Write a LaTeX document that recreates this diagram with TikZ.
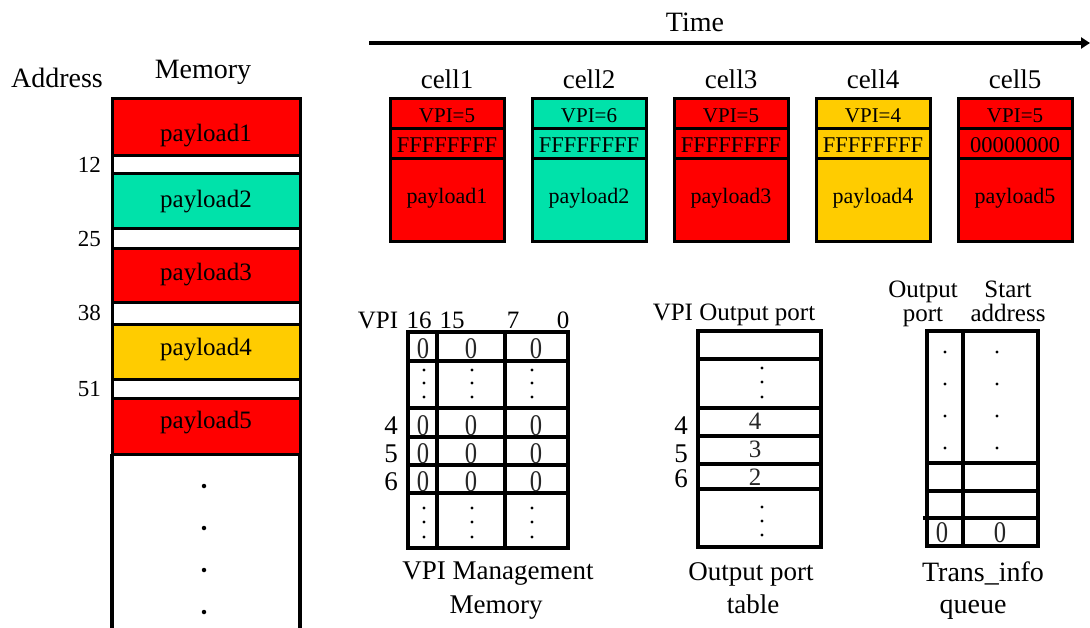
\documentclass[tikz,border=0pt]{standalone}
\usepackage{fontspec}
\setmainfont{Liberation Serif}
\usetikzlibrary{arrows.meta}
\definecolor{pred}{RGB}{255,0,0}
\definecolor{pteal}{RGB}{0,226,170}
\definecolor{pyellow}{RGB}{255,204,0}
\newcommand\fsz[1]{\fontsize{#1}{#1}\selectfont}

\begin{document}
\begin{tikzpicture}[x=1pt,y=-1pt,
  blk/.style={draw=black,line width=3pt},
  tbl/.style={draw=black,line width=3.5pt},
  lbl/.style={anchor=base,inner sep=0pt},
  big/.style={lbl,font=\fsz{28}},
  hdr/.style={lbl,font=\fsz{25}},
  addr/.style={lbl,anchor=base east,font=\fsz{23}},
  pay/.style={lbl,font=\fsz{25}},
  cpay/.style={lbl,font=\fsz{22}},
  zero/.style={lbl,font=\fsz{30},xscale=0.82,text=black!85},
  val/.style={lbl,font=\fsz{25},text=black!85},
  rowno/.style={lbl,font=\fsz{27}},
  dot/.style={fill=black,circle,inner sep=0pt,minimum size=3.2pt}
]
\useasboundingbox (0,0) rectangle (1090,627);

% ---------- time axis ----------
\node[big] (time) at (695,31) {Time};
\coordinate (t0) at (369,43);
\coordinate (t1) at (1090,43);
\draw[line width=3.5pt,-{Triangle[length=9pt,width=11pt]}] (t0) -- (t1);

% ---------- memory ----------
\node[big] (addrT) at (57,87) {Address};
\node[big] (memT) at (203,78) {Memory};
\draw[blk,line width=3.5pt] (112,454) -- (112,640) (300,454) -- (300,640);
\draw[blk,fill=pred]    (112,98)  rectangle (300,155);
\draw[blk,fill=white]   (112,155) rectangle (300,173);
\draw[blk,fill=pteal]   (112,173) rectangle (300,228);
\draw[blk,fill=white]   (112,228) rectangle (300,248);
\draw[blk,fill=pred]    (112,248) rectangle (300,302);
\draw[blk,fill=white]   (112,302) rectangle (300,324);
\draw[blk,fill=pyellow] (112,324) rectangle (300,379);
\draw[blk,fill=white]   (112,379) rectangle (300,398);
\draw[blk,fill=pred]    (112,398) rectangle (300,454);
\node[pay] (mp1) at (206,141) {payload1};
\node[pay] (mp2) at (206,207) {payload2};
\node[pay] (mp3) at (206,280) {payload3};
\node[pay] (mp4) at (206,355) {payload4};
\node[pay] (mp5) at (206,428) {payload5};
\node[addr] (a12) at (101,172) {12};
\node[addr] (a25) at (101,246) {25};
\node[addr] (a38) at (101,320) {38};
\node[addr] (a51) at (101,396) {51};
\foreach \y [count=\i] in {486,528,570,612}
  \node[dot,minimum size=4.5pt] (md\i) at (204,\y) {};

% ---------- cells ----------
\foreach \i/\c/\v/\h in {1/pred/5/FFFFFFFF,2/pteal/6/FFFFFFFF,3/pred/5/FFFFFFFF,4/pyellow/4/FFFFFFFF,5/pred/5/00000000}{
  \pgfmathsetmacro\xa{390+142*(\i-1)}
  \pgfmathsetmacro\xb{\xa+114}
  \pgfmathsetmacro\xc{\xa+57}
  \draw[blk,fill=\c] (\xa,98) rectangle (\xb,128);
  \draw[blk,fill=\c] (\xa,128) rectangle (\xb,158);
  \draw[blk,fill=\c] (\xa,158) rectangle (\xb,241);
  \node[lbl,font=\fsz{27}] (cell\i) at (\xc,88) {cell\i};
  \node[lbl,font=\fsz{21}] (vpi\i) at (\xc,122) {VPI=\v};
  \node[lbl,font=\fsz{22.5}] (hec\i) at (\xc,152) {\h};
  \node[cpay] (cp\i) at (\xc,203) {payload\i};
}

% ---------- VPI management memory ----------
\draw[tbl] (408,332) rectangle (568,548);
\foreach \y in {361,408,437,465,493} \draw[tbl] (408,\y) -- (568,\y);
\draw[tbl] (437,332) -- (437,548) (505,332) -- (505,548);
\node[hdr] (vh) at (378,328) {VPI};
\node[hdr] (v16) at (419,328) {16};
\node[hdr] (v15) at (452,328) {15};
\node[hdr] (v7) at (513,328) {7};
\node[hdr] (v0) at (563,328) {0};
\foreach \y [count=\r] in {358,435,463,491}{
  \node[zero] (za\r) at (423,\y) {0};
  \node[zero] (zb\r) at (471,\y) {0};
  \node[zero] (zc\r) at (536,\y) {0};
}
\node[rowno] (vr4) at (391,434) {4};
\node[rowno] (vr5) at (391,462) {5};
\node[rowno] (vr6) at (391,490) {6};
\foreach \y [count=\k] in {370,383,397,508,522,537}{
  \node[dot,minimum size=3.4pt] (vda\k) at (424,\y) {};
  \node[dot,minimum size=3.4pt] (vdb\k) at (472,\y) {};
  \node[dot,minimum size=3.4pt] (vdc\k) at (532,\y) {};
}
\node[lbl,font=\fsz{27}] (vcap1) at (498,579) {VPI Management};
\node[lbl,font=\fsz{27}] (vcap2) at (496,613) {Memory};

% ---------- output port table ----------
\draw[tbl] (698,331) rectangle (821,547);
\foreach \y in {359,408,436,464,489} \draw[tbl] (698,\y) -- (821,\y);
\node[hdr] (oh) at (734,320) {VPI Output port};
\node[val] (ov4) at (755,429) {4};
\node[val] (ov3) at (755,457) {3};
\node[val] (ov2) at (755,485) {2};
\node[rowno] (or4) at (681,434) {4};
\node[rowno] (or5) at (681,462) {5};
\node[rowno] (or6) at (681,487) {6};
\foreach \y [count=\k] in {368,382,397,507,521,535}
  \node[dot,minimum size=3.4pt] (od\k) at (762,\y) {};
\node[lbl,font=\fsz{27}] (ocap1) at (751,580) {Output port};
\node[lbl,font=\fsz{27}] (ocap2) at (753,613) {table};

% ---------- trans_info queue ----------
\draw[tbl] (927,331) rectangle (1038,546);
\draw[tbl] (963,331) -- (963,546);
\foreach \y in {463,491} \draw[tbl] (927,\y) -- (1038,\y);
\draw[tbl] (923,518) -- (1038,518);
\node[hdr] (qh1) at (923,297) {Output};
\node[hdr] (qh2) at (923,321) {port};
\node[hdr] (qh3) at (1008,297) {Start};
\node[hdr] (qh4) at (1008,321) {address};
\foreach \y [count=\k] in {352,384,416,448}{
  \node[dot,minimum size=3.2pt] (qda\k) at (945,\y) {};
  \node[dot,minimum size=3.2pt] (qdb\k) at (997,\y) {};
}
\node[zero] (qz1) at (942,542) {0};
\node[zero] (qz2) at (1000,542) {0};
\node[lbl,font=\fsz{28}] (qcap1) at (983,581) {Trans\_info};
\node[lbl,font=\fsz{28}] (qcap2) at (973,613) {queue};
\end{tikzpicture}
\end{document}
